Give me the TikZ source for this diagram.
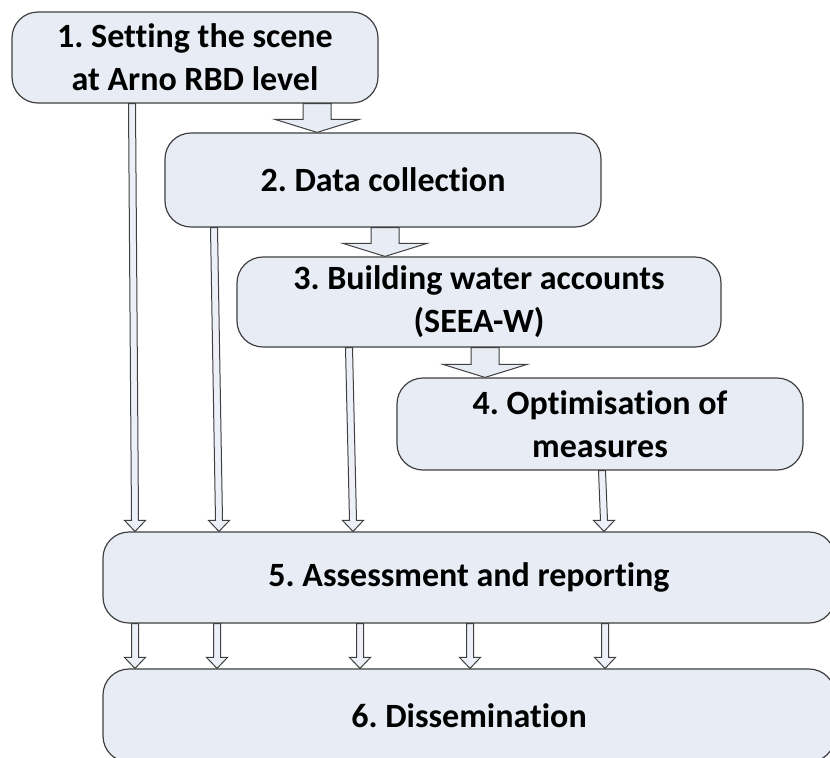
\documentclass[tikz,border=0pt]{standalone}
\usepackage{fontspec}
\setmainfont{Carlito}[Ligatures=NoCommon]
\usetikzlibrary{calc}

\newlength{\du}
\setlength{\du}{0.5pt}

\definecolor{boxfill}{rgb}{0.910, 0.925, 0.961}
\definecolor{boxline}{rgb}{0.250, 0.250, 0.250}
\definecolor{arrfill}{rgb}{0.930, 0.940, 0.975}

\tikzset{
  stepbox/.style={draw=boxline, fill=boxfill, line width=0.6pt, rounded corners=13pt,
    inner sep=0pt, align=center, font=\frenchspacing\bfseries\fontsize{17}{21.5}\selectfont},
  blockarrow/.style={draw=boxline, fill=boxfill, line width=0.5pt},
  thinarrow/.style={draw=boxline, fill=arrfill, line width=0.5pt}
}

% #1 x of the arrow, #2 upper node, #3 lower node
\newcommand{\wideArrow}[3]{%
  \draw[blockarrow] let \p1=(#2.south), \p2=(#3.north) in
    (#1-14\du,\y1) -- (#1-14\du,\y2+13\du) -- (#1-42\du,\y2+13\du) -- (#1,\y2)
    -- (#1+42\du,\y2+13\du) -- (#1+14\du,\y2+13\du) -- (#1+14\du,\y1) -- cycle;}

% #1 x at the top, #2 x at the tip, #3 upper node, #4 lower node
\newcommand{\slimArrow}[4]{%
  \draw[thinarrow] let \p1=(#3.south), \p2=(#4.north) in
    (#1-3.5\du,\y1) -- (#2-3.5\du,\y2+11\du) -- (#2-10.5\du,\y2+11\du) -- (#2,\y2)
    -- (#2+10.5\du,\y2+11\du) -- (#2+3.5\du,\y2+11\du) -- (#1+3.5\du,\y1) -- cycle;}

\begin{document}
\begin{tikzpicture}
\useasboundingbox (0,0) rectangle (830\du,-757\du);
\clip (0,0) rectangle (830\du,-757\du);
\fill[white] (0,0) rectangle (830\du,-757\du);

\node[stepbox, minimum width=366\du, minimum height=91\du] (scene) at (195\du,-57.5\du)
  {1. Setting the scene\\at Arno RBD level};
\node[stepbox, minimum width=436\du, minimum height=94\du] (data) at (383\du,-180\du)
  {2. Data collection};
\node[stepbox, minimum width=484\du, minimum height=90\du] (accounts) at (479\du,-302\du)
  {3. Building water accounts\\(SEEA-W)};
\node[stepbox, minimum width=406\du, minimum height=92\du] (optim) at (600\du,-424\du)
  {4. Optimisation of\\measures};
\node[stepbox, minimum width=732\du, minimum height=91\du] (assess) at (469\du,-577.5\du)
  {5. Assessment and reporting};
\node[stepbox, minimum width=732\du, minimum height=93\du] (dissem) at (469\du,-715.5\du)
  {6. Dissemination};

% main chain
\wideArrow{317\du}{scene}{data}
\wideArrow{385\du}{data}{accounts}
\wideArrow{485\du}{accounts}{optim}

% into assessment
\slimArrow{132\du}{135\du}{scene}{assess}
\slimArrow{214\du}{219\du}{data}{assess}
\slimArrow{349\du}{353\du}{accounts}{assess}
\slimArrow{602\du}{604\du}{optim}{assess}

% into dissemination
\foreach \xa in {135,217,360,470,605}
  \slimArrow{\xa\du}{\xa\du}{assess}{dissem};

\end{tikzpicture}
\end{document}
